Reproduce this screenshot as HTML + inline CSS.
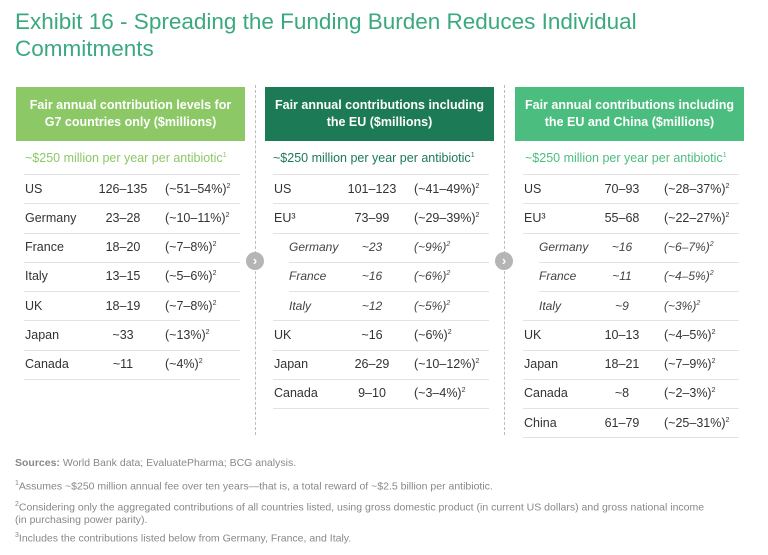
<!DOCTYPE html>
<html><head><meta charset="utf-8">
<style>
*{margin:0;padding:0;box-sizing:border-box}
body{width:768px;height:555px;background:#fff;font-family:"Liberation Sans",sans-serif;position:relative;overflow:hidden;color:#333}
.title{position:absolute;left:15px;top:8px;font-size:22.5px;line-height:27px;color:#3aa97f;width:660px}
.hdr{position:absolute;top:87px;width:229px;height:54px;color:#fff;font-weight:bold;font-size:12.5px;line-height:17px;text-align:center;display:flex;align-items:center;justify-content:center;padding:0 6px}
.sub{position:absolute;top:151px;font-size:12.5px;white-space:nowrap}
.sub sup,.c sup{font-size:7px}
.line{position:absolute;height:1px;background:#e2e2e2}
.c{position:absolute;font-size:12.5px;white-space:nowrap;transform:translateY(-50%)}
.v{text-align:center;width:60px}
.it{font-style:italic;font-size:12px;color:#444}
.sep{position:absolute;top:85px;height:350px;border-left:1px dashed #bbb}
.arrow{position:absolute;width:18px;height:18px;border-radius:50%;background:#b5b5b5;color:#fff;font-size:13px;line-height:18px;text-align:center;font-weight:bold}
.fn{position:absolute;left:15px;font-size:10.5px;color:#888;line-height:12px;width:700px}
</style></head><body>
<div class="title">Exhibit 16 - Spreading the Funding Burden Reduces Individual Commitments</div>

<div class="hdr" style="left:16px;background:#8cc866">Fair annual contribution levels for G7 countries only ($millions)</div>
<div class="hdr" style="left:265px;background:#1c7a56">Fair annual contributions including the EU ($millions)</div>
<div class="hdr" style="left:515px;background:#4bbd7e">Fair annual contributions including the EU and China ($millions)</div>

<div class="sub" style="left:25px;color:#8cc866">~$250 million per year per antibiotic<sup>1</sup></div>
<div class="sub" style="left:273px;color:#1c7a56">~$250 million per year per antibiotic<sup>1</sup></div>
<div class="sub" style="left:525px;color:#4bbd7e">~$250 million per year per antibiotic<sup>1</sup></div>

<div class="sep" style="left:255px"></div>
<div class="sep" style="left:504px"></div>
<div class="arrow" style="left:246px;top:252px">›</div>
<div class="arrow" style="left:495px;top:252px">›</div>

<div id="tables"></div>

<div class="fn" style="top:457px"><b>Sources:</b> World Bank data; EvaluatePharma; BCG analysis.</div>
<div class="fn" style="top:478px"><sup style="font-size:7px">1</sup>Assumes ~$250 million annual fee over ten years—that is, a total reward of ~$2.5 billion per antibiotic.</div>
<div class="fn" style="top:499px"><sup style="font-size:7px">2</sup>Considering only the aggregated contributions of all countries listed, using gross domestic product (in current US dollars) and gross national income (in purchasing power parity).</div>
<div class="fn" style="top:530px"><sup style="font-size:7px">3</sup>Includes the contributions listed below from Germany, France, and Italy.</div>

<script>
const g7Countries=["US","Germany","France","Italy","UK","Japan","Canada"];
const g7Values=["126–135","23–28","18–20","13–15","18–19","~33","~11"];
const g7Shares=["~51–54%","~10–11%","~7–8%","~5–6%","~7–8%","~13%","~4%"];
const euCountries=["US","EU³","Germany","France","Italy","UK","Japan","Canada"];
const euValues=["101–123","73–99","~23","~16","~12","~16","26–29","9–10"];
const euShares=["~41–49%","~29–39%","~9%","~6%","~5%","~6%","~10–12%","~3–4%"];
const euSub=[0,0,1,1,1,0,0,0];
const ecCountries=["US","EU³","Germany","France","Italy","UK","Japan","Canada","China"];
const ecValues=["70–93","55–68","~16","~11","~9","10–13","18–21","~8","61–79"];
const ecShares=["~28–37%","~22–27%","~6–7%","~4–5%","~3%","~4–5%","~7–9%","~2–3%","~25–31%"];
const ecSub=[0,0,1,1,1,0,0,0,0];
const root=document.getElementById('tables');
function build(x,names,vals,shares,subs,prefix){
  const top=174,step=29.25;
  const l0=document.createElement('div');l0.className='line';
  
  
  l0.style.cssText=`left:${x}px;top:${top}px;width:216px`;root.appendChild(l0);
  names.forEach((n,i)=>{
    const sub=subs?subs[i]:0;
    const cy=top+step*(i+0.5);
    const a=document.createElement('div');a.className='c'+(sub?' it':'');
    
    
    a.style.left=(x+(sub?16:1))+'px';a.style.top=cy+'px';a.textContent=n;root.appendChild(a);
    const b=document.createElement('div');b.className='c v'+(sub?' it':'');
    
    
    b.style.left=(x+69)+'px';b.style.top=cy+'px';b.textContent=vals[i];root.appendChild(b);
    const c=document.createElement('div');c.className='c'+(sub?' it':'');
    
    
    c.style.left=(x+141)+'px';c.style.top=cy+'px';c.innerHTML='('+shares[i]+')<sup>2</sup>';root.appendChild(c);
    const nextSub=subs&&subs[i+1]&&sub;
    const l=document.createElement('div');l.className='line';
    
    
    const lx=nextSub?x+16:x;
    l.style.cssText=`left:${lx}px;top:${top+step*(i+1)}px;width:${216-(lx-x)}px`;root.appendChild(l);
  });
}
build(24,g7Countries,g7Values,g7Shares,null,'g7');
build(273,euCountries,euValues,euShares,euSub,'eu');
build(523,ecCountries,ecValues,ecShares,ecSub,'eu-china');
</script>
</body></html>
